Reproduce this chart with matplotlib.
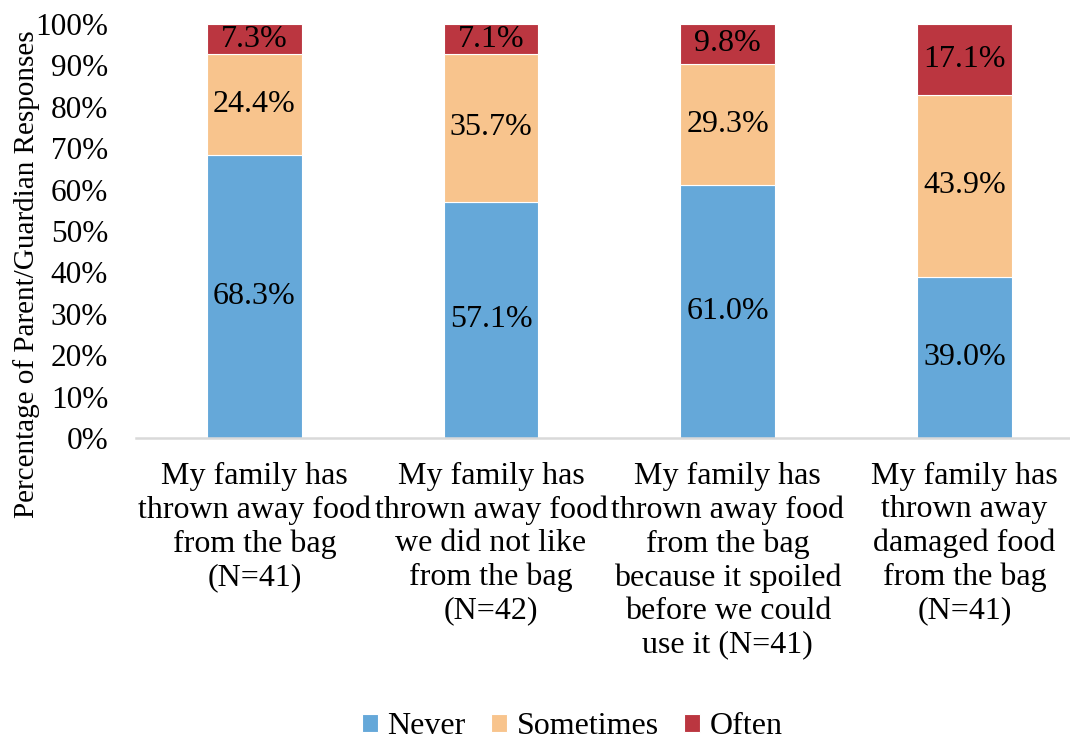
import matplotlib
matplotlib.use("Agg")
import matplotlib.pyplot as plt
import numpy as np

plt.rcParams['font.family'] = ['Liberation Serif', 'DejaVu Serif']

# data (percent of responses)
categories = [
    "My family has\nthrown away food\nfrom the bag\n(N=41)",
    "My family has\nthrown away food\nwe did not like\nfrom the bag\n(N=42)",
    "My family has\nthrown away food\nfrom the bag\nbecause it spoiled\nbefore we could\nuse it (N=41)",
    "My family has\nthrown away\ndamaged food\nfrom the bag\n(N=41)",
]
never = [68.3, 57.1, 61.0, 39.0]
sometimes = [24.4, 35.7, 29.3, 43.9]
often = [7.3, 7.1, 9.8, 17.1]

series = [("Never", never, "#65a8d9"),
          ("Sometimes", sometimes, "#f8c48d"),
          ("Often", often, "#bb3640")]

fig = plt.figure(figsize=(10.7, 7.4), dpi=100)
ax = fig.add_axes([136 / 1070, (740 - 438) / 740, 1 - 136 / 1070, (438 - 24) / 740])

x = np.arange(len(categories))
bottom = np.zeros(len(categories))
for name, vals, col in series:
    vals = np.array(vals)
    ax.bar(x, vals, 0.4, bottom=bottom, color=col, label=name,
           edgecolor="white", linewidth=0.8)
    for xi, b, v in zip(x, bottom, vals):
        ax.text(xi, b + v / 2, f"{v:.1f}%", ha="center", va="center",
                fontsize=23, color="black")
    bottom += vals

ax.set_xlim(-0.5, 3.446)
ax.set_ylim(0, 100)
ax.set_yticks(np.arange(0, 101, 10))
ax.set_yticklabels([f"{v}%" for v in range(0, 101, 10)], fontsize=22.5)
ax.set_xticks(x)
ax.set_xticklabels(categories, fontsize=23, linespacing=1.2)
ax.tick_params(axis="both", length=0)
ax.tick_params(axis="y", pad=20)
ax.tick_params(axis="x", pad=17)

for s in ["top", "right", "left"]:
    ax.spines[s].set_visible(False)
ax.spines["bottom"].set_color("#d9d9d9")
ax.spines["bottom"].set_linewidth(1.8)

fig.text(27 / 1070, 1 - 274 / 740, "Percentage of Parent/Guardian Responses",
         rotation=90, ha="center", va="center", fontsize=21)

fig.legend(loc="center", bbox_to_anchor=(0.535, 1 - 727 / 740), ncol=3,
           frameon=False, fontsize=23, handlelength=0.5, handleheight=0.5,
           handletextpad=0.3, columnspacing=0.8)

fig.savefig("out.png", dpi=100)
